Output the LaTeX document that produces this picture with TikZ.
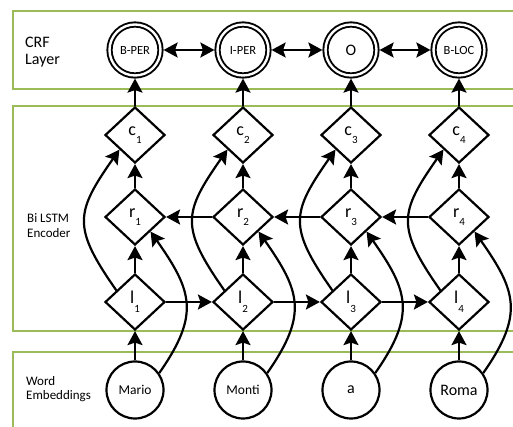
\documentclass[tikz,border=0pt]{standalone}
\usepackage{fontspec}
\setmainfont{Carlito}
\usepackage{tikz}
\usetikzlibrary{calc,arrows.meta,shapes.geometric}

\definecolor{framegreen}{RGB}{155,187,89}

\newcommand{\idx}[2]{#1\raisebox{-8.5pt}{\fontsize{11}{12}\selectfont #2}}

\begin{document}
\begin{tikzpicture}[x=1pt,y=1pt,
	frame/.style={draw=framegreen,line width=2.8pt},
	crf/.style={circle,draw,line width=1.9pt,double,double distance=2.4pt,minimum size=51pt,inner sep=0pt,outer sep=3.1pt,font=\fontsize{12.5}{14}\selectfont},
	cell/.style={diamond,draw,line width=2.2pt,minimum width=60pt,minimum height=56pt,inner sep=0pt,font=\fontsize{18}{20}\selectfont},
	word/.style={circle,draw,line width=2.2pt,minimum size=57pt,inner sep=0pt,font=\fontsize{13.5}{15}\selectfont},
	side/.style={anchor=west,align=left,inner sep=0pt},
	arr/.style={line width=2.2pt,-{Stealth[length=14pt,width=15pt,inset=2.5pt]}},
	dblarr/.style={line width=2.2pt,{Stealth[length=14pt,width=15pt,inset=2.5pt]}-{Stealth[length=14pt,width=15pt,inset=2.5pt]}}]
				\useasboundingbox (0,0) rectangle (513,427);
				\clip (0,0) rectangle (513,427);
				%layers
				\draw[frame] (13,338) rectangle (530,416);
				\draw[frame] (13,96) rectangle (530,321);
				\draw[frame] (13,-20) rectangle (530,75);
				\node[side,font=\fontsize{16}{17}\selectfont] (crflayer) at (25,375) {CRF\\Layer};
				\node[side,font=\fontsize{13}{15}\selectfont] (encoder) at (27,201) {Bi LSTM\\Encoder};
				\node[side,font=\fontsize{13}{14}\selectfont] (embed) at (26,38) {Word\\Embeddings};
				
				%crf
				\node[crf] (bper) at (135,377) {B-PER};
				\node[crf] (iper) at (243,377) {I-PER};
				\node[crf,font=\fontsize{16}{17}\selectfont] (o) at (351,377) {O};
				\node[crf] (bloc) at (459,377) {B-LOC};
				
				%bi lstm
				\node[cell] (c1) at (135,292) {\idx{c}{1}};
				\node[cell] (c2) at (243,292) {\idx{c}{2}};
				\node[cell] (c3) at (351,292) {\idx{c}{3}};
				\node[cell] (c4) at (459,292) {\idx{c}{4}};
				\node[cell] (r1) at (135,210) {\idx{r}{1}};
				\node[cell] (r2) at (243,210) {\idx{r}{2}};
				\node[cell] (r3) at (351,210) {\idx{r}{3}};
				\node[cell] (r4) at (459,210) {\idx{r}{4}};
				\node[cell] (l1) at (135,125) {\idx{l}{1}};
				\node[cell] (l2) at (243,125) {\idx{l}{2}};
				\node[cell] (l3) at (351,125) {\idx{l}{3}};
				\node[cell] (l4) at (459,125) {\idx{l}{4}};
				
				%words
				\node[word] (mario) at (135,37) {Mario};
				\node[word] (monti) at (243,37) {Monti};
				\node[word,font=\fontsize{16}{17}\selectfont] (wa) at (351,37) {a};
				\node[word,font=\fontsize{16}{17}\selectfont] (roma) at (459,37) {Roma};
				
				%upward
				\draw[arr] (mario) -- (l1);
				\draw[arr] (monti) -- (l2);
				\draw[arr] (wa) -- (l3);
				\draw[arr] (roma) -- (l4);
				\draw[arr] (l1) -- (r1);
				\draw[arr] (l2) -- (r2);
				\draw[arr] (l3) -- (r3);
				\draw[arr] (l4) -- (r4);
				\draw[arr] (r1) -- (c1);
				\draw[arr] (r2) -- (c2);
				\draw[arr] (r3) -- (c3);
				\draw[arr] (r4) -- (c4);
				\draw[arr] (c1) -- (bper);
				\draw[arr] (c2) -- (iper);
				\draw[arr] (c3) -- (o);
				\draw[arr] (c4) -- (bloc);
				
				%forward and backward
				\draw[arr] (l1) -- (l2);
				\draw[arr] (l2) -- (l3);
				\draw[arr] (l3) -- (l4);
				\draw[arr] (r2) -- (r1);
				\draw[arr] (r3) -- (r2);
				\draw[arr] (r4) -- (r3);
				
				%skip connections
				\draw[arr] ($(l1.west)!0.4!(l1.north)$) to[out=125,in=235,looseness=1.4] (c1.south west);
				\draw[arr] ($(l2.west)!0.4!(l2.north)$) to[out=125,in=235,looseness=1.4] (c2.south west);
				\draw[arr] ($(l3.west)!0.4!(l3.north)$) to[out=125,in=235,looseness=1.4] (c3.south west);
				\draw[arr] ($(l4.west)!0.4!(l4.north)$) to[out=125,in=235,looseness=1.4] (c4.south west);
				\draw[arr] (mario.35) to[out=55,in=-55,looseness=1.3] (r1.south east);
				\draw[arr] (monti.35) to[out=55,in=-55,looseness=1.3] (r2.south east);
				\draw[arr] (wa.35) to[out=55,in=-55,looseness=1.3] (r3.south east);
				\draw[arr] (roma.35) to[out=55,in=-55,looseness=1.3] (r4.south east);
				
				%crf links
				\draw[dblarr] (bper) -- (iper);
				\draw[dblarr] (iper) -- (o);
				\draw[dblarr] (o) -- (bloc);
			\end{tikzpicture}
\end{document}
